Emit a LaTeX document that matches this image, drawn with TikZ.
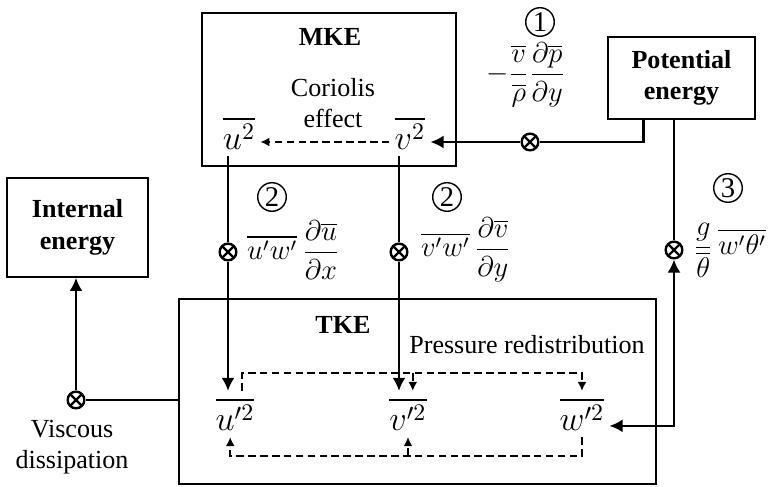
\documentclass[tikz,border=0pt]{standalone}
\usepackage{amsmath, amssymb}
\usepackage{fontspec}
\setmainfont{Liberation Serif}
\usetikzlibrary{calc, positioning, fit, arrows.meta}

\begin{document}
\fontsize{10.95}{13.2}\selectfont
\begin{tikzpicture}[x=0.42pt, y=-0.42pt, >={Latex[length=5.5pt,width=5.5pt]},
    box/.style={draw, line width=0.7pt, inner sep=0pt},
    flow/.style={->, line width=1pt},
    dflow/.style={-{Latex[length=3.8pt,width=3.8pt]}, line width=0.9pt, dash pattern=on 3.2pt off 1.8pt},
    term/.style={inner sep=2pt, minimum height=19pt, font=\Large},
    frm/.style={font=\large},
    num/.style={circle, draw, line width=0.6pt, minimum size=12pt, inner sep=0pt, font=\large},
    prod/.style={circle, draw, fill=white, line width=1pt, minimum size=7pt, inner sep=0pt,
        path picture={\draw[line width=0.9pt] (path picture bounding box.north west) -- (path picture bounding box.south east)
            (path picture bounding box.north east) -- (path picture bounding box.south west);}}]
    \useasboundingbox (0,0) rectangle (773,487);

    % Các hộp năng lượng
    \node[box, fit={(202,13) (456,166)}] (mke) {};
    \node[box, fit={(179,299) (656,484)}] (tke) {};
    \node[box, minimum width=61.7pt, minimum height=34.4pt, align=center, font=\bfseries] (pe) at (681.5,78) {Potential\\energy};
    \node[box, minimum width=59.2pt, minimum height=41.6pt, align=center, font=\bfseries] (ie) at (77.5,227.5) {Internal\\energy};
    \node[font=\bfseries] (mketxt) at (330,37) {MKE};
    \node[font=\bfseries] (tketxt) at (343,325) {TKE};
    \node[align=center] (cor) at (333,103) {Coriolis\\effect};
    \node (pres) at (527,345) {Pressure redistribution};
    \node[align=center] (visctxt) at (72,447) {Viscous\\dissipation};

    % Các thành phần
    \node[term] (u2) at (239,133) {$\overline{u^2}$};
    \node[term] (v2) at (410,133) {$\overline{v^2}$};
    \node[term] (up2) at (235,414) {$\overline{u'^2}$};
    \node[term] (vp2) at (408,414) {$\overline{v'^2}$};
    \node[term] (wp2) at (582,414) {$\overline{w'^2}$};

    % Các số hạng sinh
    \node[prod] (pgrad) at (530,142) {};
    \node[prod] (shearu) at (228,252) {};
    \node[prod] (shearv) at (399,252) {};
    \node[prod] (buoy) at (674,250) {};
    \node[prod] (visc) at (76,400) {};
    \node[num] (n1) at (540,22) {1};
    \node[num] (n2a) at (272,197) {2};
    \node[num] (n2b) at (447,197) {2};
    \node[num] (n3) at (728,188) {3};
    \node[frm] (f1) at (526,75) {$-\dfrac{\overline{v}}{\overline{\rho}}\dfrac{\partial\overline{p}}{\partial y}$};
    \node[frm, anchor=west] (f2) at (238,250) {$\overline{u'w'}\,\dfrac{\partial\overline{u}}{\partial x}$};
    \node[frm, anchor=west] (f3) at (412,250) {$\overline{v'w'}\,\dfrac{\partial\overline{v}}{\partial y}$};
    \node[frm, anchor=west] (f4) at (684,250) {$\dfrac{g}{\overline{\theta}}\,\overline{w'\theta'}$};

    % Mũi tên
    \draw[flow] ($(pe.south west)!0.245!(pe.south east)$) |- (pgrad) -- (v2.east |- pgrad);
    \draw[dflow] (v2.west |- pgrad) -- (u2.east |- pgrad);
    \draw[flow] (u2.south -| shearu) -- (shearu) -- (shearu |- up2.north);
    \draw[flow] (v2.south -| shearv) -- (shearv) -- (shearv |- vp2.north);
    \draw[<->, line width=1pt] (pe.south -| buoy) -- (buoy) |- ([yshift=-5pt]wp2.east);
    \draw[flow] (tke.west |- visc) -- (visc) -- (visc |- ie.south);

    % Tái phân bố áp suất
    \coordinate (vtop) at ([xshift=2pt]vp2.north);
    \draw[dflow] ([xshift=3pt]up2.north) -- ++(0,-18) coordinate (redtop) -| (wp2.north);
    \draw[dflow] (redtop -| vtop) -- (vtop);
    \draw[dflow] (wp2.south) -- ++(0,19) coordinate (redbot) -| ([xshift=-2pt]up2.south);
    \draw[dflow] (redbot -| vp2.south) -- (vp2.south);
\end{tikzpicture}
\end{document}
